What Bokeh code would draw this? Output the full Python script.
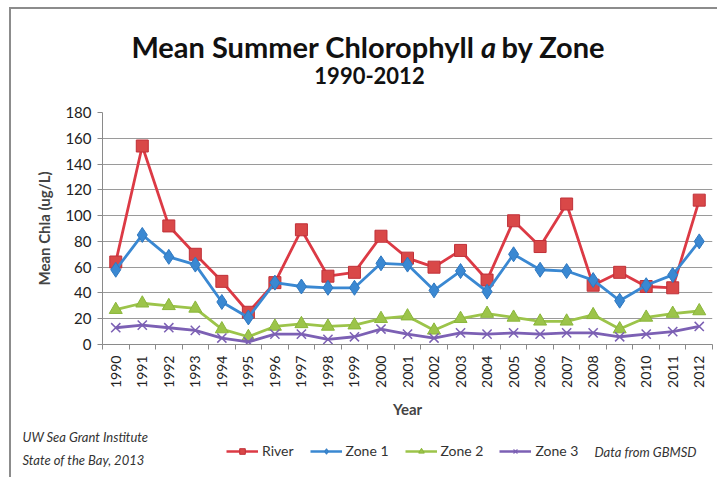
import math
from bokeh.plotting import figure
from bokeh.layouts import column
from bokeh.models import (FixedTicker, Label, Legend, LegendItem, Range1d)
from bokeh.embed import file_html
from bokeh.resources import INLINE

years = list(range(1990, 2013))
river = [64, 154, 92, 70, 49, 25, 48, 89, 53, 56, 84, 67, 60, 73, 50, 96, 76, 109, 46, 56, 45, 44, 112]
zone1 = [58, 85, 68, 62, 33, 21, 48, 45, 44, 44, 63, 62, 42, 57, 41, 70, 58, 57, 50, 34, 46, 54, 80]
zone2 = [27, 32, 30, 28, 12, 6, 14, 16, 14, 15, 20, 22, 11, 20, 24, 21, 18, 18, 23, 12, 21, 24, 26]
zone3 = [13, 15, 13, 11, 5, 2, 8, 8, 4, 6, 12, 8, 5, 9, 8, 9, 8, 9, 9, 6, 8, 10, 14]
y_ticks = [0, 20, 40, 60, 80, 100, 120, 140, 160, 180]
series_names = ["River", "Zone 1", "Zone 2", "Zone 3"]

FONT = "Lato"
OX, OY = 11, 9          # page position of layout content
W = 706
H_HEAD, H_MAIN, H_FOOT = 91, 320, 57

red, blue, green, purple = "#dc3a45", "#3a88d2", "#9cc44a", "#7c60b4"


def blank(h):
    f = figure(width=W, height=h, output_backend="svg", toolbar_location=None,
               x_range=Range1d(0, W), y_range=Range1d(0, h), title=None,
               x_axis_location=None, y_axis_location=None,
               min_border=0, min_border_left=0, min_border_right=0,
               min_border_top=0, min_border_bottom=0, frame_align=False)
    f.outline_line_color = None
    f.grid.grid_line_color = None
    f.background_fill_color = "white"
    f.border_fill_color = "white"
    return f


def lab(f, top, h, text, X, Y, size, style="normal", align="left", color="#111111"):
    px = int(size.replace("px", ""))
    Y = Y - 0.37 * px   # compensate baseline offset seen with the svg backend
    f.add_layout(Label(x=X - OX, y=(top + h) - Y, text=text,
                       text_font=FONT, text_font_size=size, text_font_style=style,
                       text_align=align, text_baseline="alphabetic", text_color=color))


# ---------------- header ----------------
head = blank(H_HEAD)
HT = OY
lab(head, HT, H_HEAD, "Mean Summer Chlorophyll", 474, 57, "29px", "bold", "right")
lab(head, HT, H_HEAD, "a", 488, 57, "29px", "bold italic", "center")
lab(head, HT, H_HEAD, "by Zone", 501, 57, "29px", "bold", "left")
lab(head, HT, H_HEAD, "1990-2012", 369, 83, "22px", "bold", "center")

# ---------------- main plot ----------------
MT = OY + H_HEAD
frame_left, frame_top, frame_right, frame_bottom = 102, 112, 712, 345
p = figure(width=W, height=H_MAIN, output_backend="svg", toolbar_location=None,
           x_range=Range1d(years[0] - 0.5, years[-1] + 0.5),
           y_range=Range1d(0, 180), title=None,
           min_border_left=frame_left - OX, min_border_top=frame_top - MT,
           min_border_right=(OX + W) - frame_right,
           min_border_bottom=(MT + H_MAIN) - frame_bottom, frame_align=False)
p.outline_line_color = None
p.background_fill_color = "white"
p.border_fill_color = "white"

p.xaxis.ticker = FixedTicker(ticks=years, minor_ticks=[y - 0.5 for y in years] + [years[-1] + 0.5])
p.xaxis.major_tick_line_color = None
p.xaxis.minor_tick_out = 5
p.xaxis.minor_tick_in = 0
p.xaxis.minor_tick_line_color = "#8a8a8a"
p.xaxis.axis_line_color = "#8a8a8a"
p.xaxis.major_label_orientation = math.pi / 2
p.xaxis.major_label_text_font = FONT
p.xaxis.major_label_text_font_size = "14px"
p.xaxis.major_label_text_color = "#222222"
p.xaxis.major_label_standoff = 5
p.xaxis.axis_label = "Year"
p.xaxis.axis_label_text_font = FONT
p.xaxis.axis_label_text_font_style = "bold"
p.xaxis.axis_label_text_font_size = "15px"
p.xaxis.axis_label_standoff = 9

p.yaxis.ticker = FixedTicker(ticks=y_ticks)
p.yaxis.minor_tick_line_color = None
p.yaxis.major_tick_out = 5
p.yaxis.major_tick_in = 0
p.yaxis.major_tick_line_color = "#8a8a8a"
p.yaxis.axis_line_color = "#8a8a8a"
p.yaxis.major_label_text_font = FONT
p.yaxis.major_label_text_font_size = "15px"
p.yaxis.major_label_text_color = "#222222"
p.yaxis.major_label_standoff = 6
p.yaxis.axis_label = "Mean Chla (ug/L)"
p.yaxis.axis_label_text_font = FONT
p.yaxis.axis_label_text_font_style = "bold"
p.yaxis.axis_label_text_font_size = "15px"
p.yaxis.axis_label_standoff = 9

p.xgrid.grid_line_color = None
p.ygrid.grid_line_color = "#9a9a9a"
p.ygrid.grid_line_width = 1

styles = [
    dict(color=red, marker="square", size=12, fill="#d94848", edge="#c03038"),
    dict(color=blue, marker="diamond", size=15, fill="#3a88d2", edge="#2f78c0"),
    dict(color=green, marker="triangle", size=13, fill="#9cc44a", edge="#8ab63a"),
    dict(color=purple, marker="x", size=13, fill=purple, edge=purple),
]
all_series = [river, zone1, zone2, zone3]
for vals, st in zip(all_series, styles):
    p.line(years, vals, line_color=st["color"], line_width=2.8)
    if st["marker"] == "x":
        p.scatter(years, vals, marker="x", size=st["size"], line_color=st["edge"], line_width=1.5)
    else:
        p.scatter(years, vals, marker=st["marker"], size=st["size"], fill_color=st["fill"],
                  line_color=st["edge"], line_width=1)

# ---------------- footer ----------------
# The footer repeats the series (they fall outside its pixel-unit ranges and so
# are not visible there) only to supply glyphs for the legend.
FT = MT + H_MAIN
foot = blank(H_FOOT)
items = []
for name, vals, st in zip(series_names, all_series, styles):
    lr = foot.line(years, vals, line_color=st["color"], line_width=2.6)
    if st["marker"] == "x":
        mr = foot.scatter(years, vals, marker="x", size=7, line_color=st["edge"], line_width=1.2)
    else:
        mr = foot.scatter(years, vals, marker=st["marker"], size=8, fill_color=st["fill"],
                          line_color=st["edge"], line_width=1)
    items.append(LegendItem(label=name, renderers=[lr, mr]))
legend = Legend(items=items, orientation="horizontal",
                location=(226 - OX, (FT + H_FOOT) - 459))
legend.label_text_font = FONT
legend.label_text_font_size = "14px"
legend.label_text_color = "#333333"
legend.glyph_width = 32
legend.glyph_height = 14
legend.label_standoff = 4
legend.spacing = 16
legend.padding = 2
legend.margin = 0
legend.border_line_color = None
legend.background_fill_alpha = 0
foot.add_layout(legend, "center")

lab(foot, FT, H_FOOT, "UW Sea Grant Institute", 22, 441, "13px", "italic", color="#333333")
lab(foot, FT, H_FOOT, "State of the Bay, 2013", 22, 464, "13px", "italic", color="#333333")
lab(foot, FT, H_FOOT, "Data from GBMSD", 594, 456, "13px", "italic", color="#333333")

layout = column(head, p, foot, spacing=0)
layout.styles = {"margin-left": "9px", "margin-top": "7px",
                 "border-left": "2px solid #8c8c8c", "border-top": "2px solid #8c8c8c"}

open("out.html", "w").write(file_html(layout, INLINE))
